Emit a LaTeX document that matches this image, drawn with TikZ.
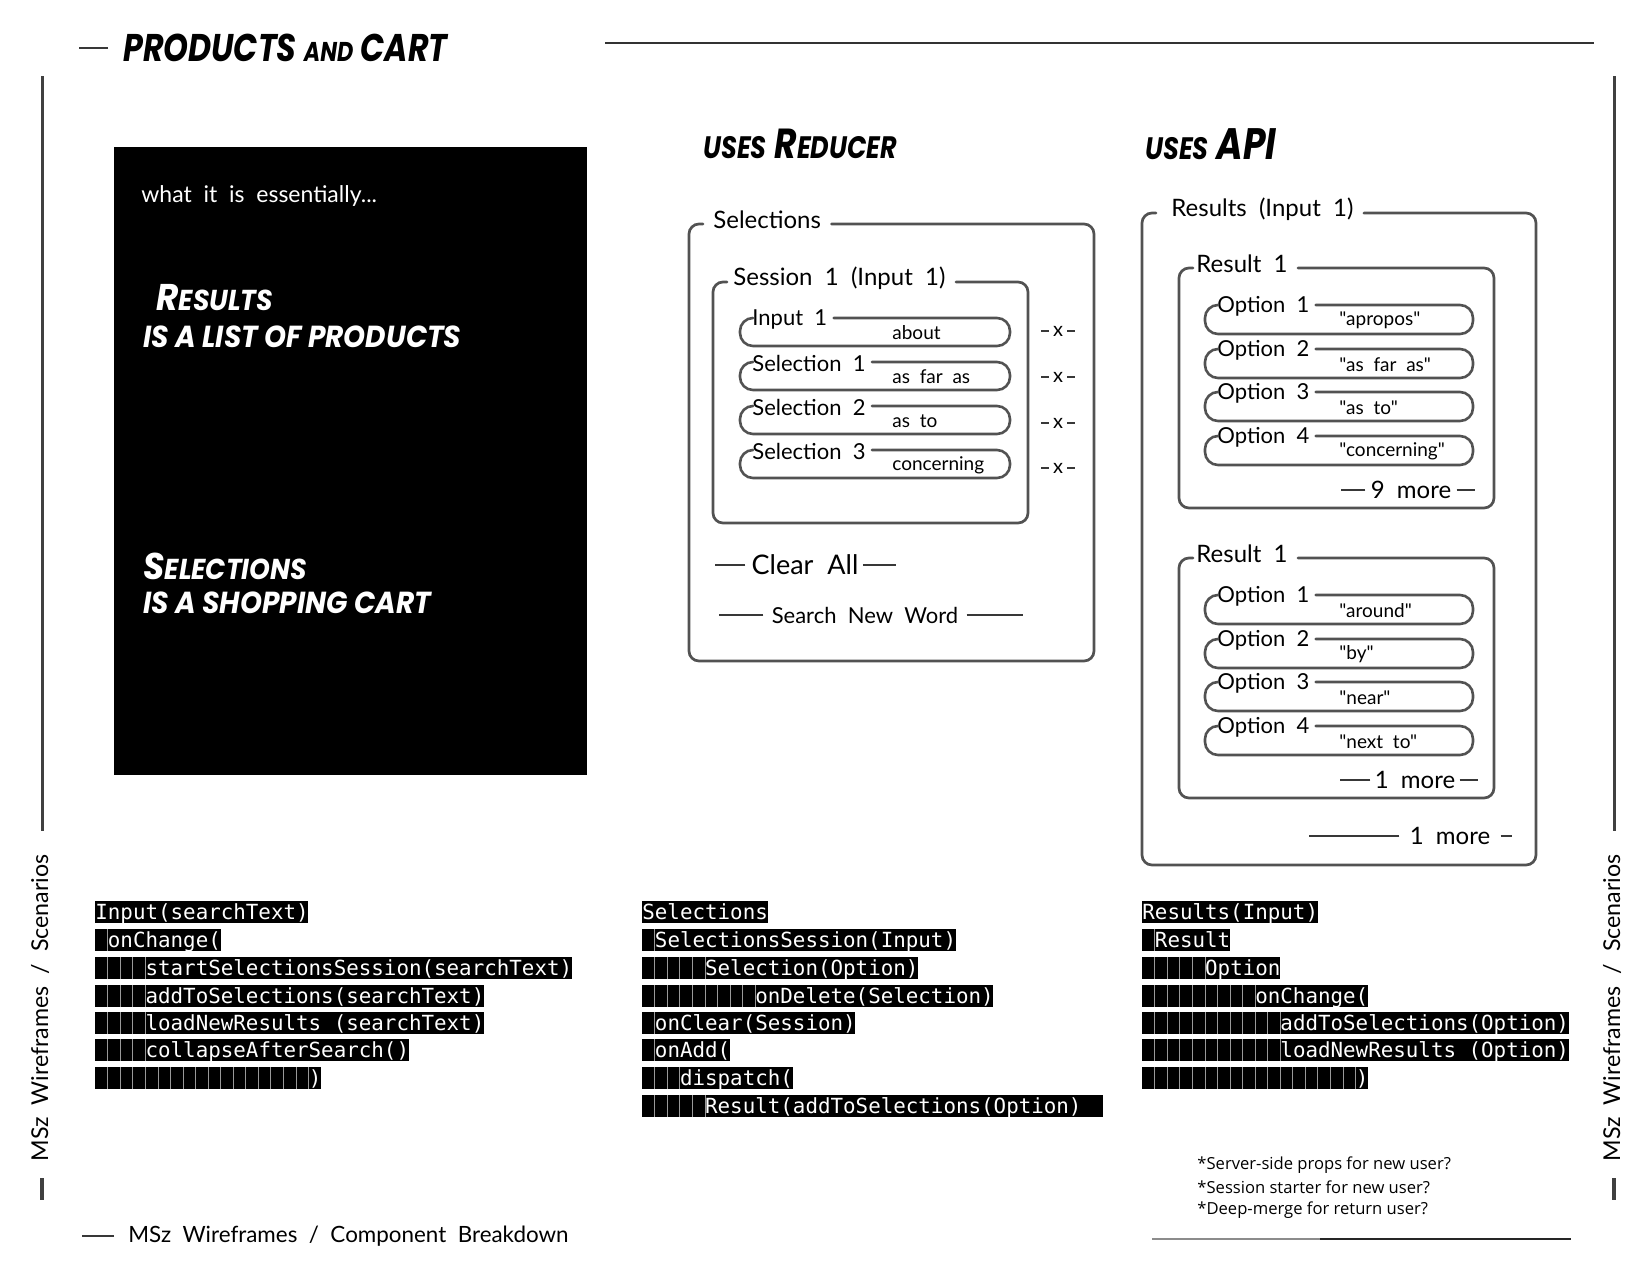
\documentclass[tikz,border=0pt]{standalone}
\usepackage{fontspec}
\setmainfont{Lato}
\newfontfamily\headfont{Poppins}[FakeStretch=0.82]
\newfontfamily\boxfont{Poppins}[FakeStretch=0.92]
\newfontfamily\handfont{Lato}[WordSpace=2.0]
\newfontfamily\codefont{DejaVu Sans Mono}
\newfontfamily\notefont{Open Sans}
\tikzset{
  sk/.style={draw=black!68, line width=1.35pt, rounded corners=5pt, line cap=round},
  pill/.style={draw=black!68, line width=1.3pt, rounded corners=6.5pt, line cap=round},
  hlbl/.style={font=\handfont\fontsize{12}{14}\selectfont, inner sep=0pt, anchor=west},
  rlbl/.style={font=\handfont\fontsize{11}{13}\selectfont, inner sep=0pt, anchor=west},
  rval/.style={font=\handfont\fontsize{9.5}{11}\selectfont, inner sep=0pt, anchor=west},
  hmore/.style={font=\handfont\fontsize{12}{14}\selectfont, inner sep=0pt},
  xmark/.style={font=\handfont\fontsize{10}{12}\selectfont, inner sep=0pt},
  ctext/.style={font=\codefont\fontsize{10.42}{12}\selectfont, text=white, inner sep=0pt, anchor=base west},
  cellsep/.style={draw=black!40, line width=0.25pt},
  dashln/.style={draw=black!78, line width=0.9pt},
  sideln/.style={draw=black!75, line width=1.5pt},
  sidetxt/.style={rotate=90, font=\handfont\fontsize{11.6}{13}\selectfont, inner sep=0pt},
  headc/.style={font=\headfont\bfseries\itshape\fontsize{21}{23}\selectfont, inner sep=0pt, anchor=west},
  boxc/.style={font=\boxfont\bfseries\itshape\fontsize{15.2}{17}\selectfont, text=white, inner sep=0pt, anchor=west},
  note/.style={font=\notefont\fontsize{8.3}{10}\selectfont, inner sep=0pt, anchor=west},
}
% code row: name, x, y, indent cells, total cells, text
\newcommand\coderow[6]{%
  \fill (#2,#3-11) rectangle ({#2+#5*12.55},#3+11);
  \ifnum#4>0
    \foreach \ii in {1,...,#4}{\draw[cellsep] ({#2+\ii*12.55},#3-11) -- ({#2+\ii*12.55},#3+11);}
  \fi
  \node[ctext] (#1) at ({#2+#4*12.55},#3+7) {#6};
}
% pill row: name, L, R, T, B, label, value, value x
\newcommand\pillrow[8]{%
  \node[rlbl] (#1l) at ({#2+12},{#4+1}) {#6};
  \node[rval] (#1v) at (#8,{(#4+#5)/2+1}) {#7};
  \draw[pill] ([xshift=3pt]#1l.east |- 0,#4) -- (#3,#4) -- (#3,#5) -- (#2,#5) -- (#2,#4) -- ({#2+13},#4);
}
% labelled box: name, L, R, T, B, label, label x
\newcommand\lblbox[7]{%
  \node[hlbl] (#1) at (#7,{#4-4}) {#6};
  \draw[sk] ([xshift=5pt]#1.east |- 0,#4) -- (#3,#4) -- (#3,#5) -- (#2,#5) -- (#2,#4) -- ({#2+14},#4);
}
\begin{document}
\begin{tikzpicture}[x=0.5pt,y=-0.5pt]
\useasboundingbox (0,0) rectangle (1650,1275);

% ---------- header ----------
\node[headc, font=\headfont\bfseries\itshape\fontsize{19.3}{21}\selectfont] (title) at (123,48)
  {PRODUCTS {\fontsize{13.6}{14}\selectfont AND} CART};
\draw[dashln] ([xshift=-7.5pt]title.west) -- ++(-29,0);
\draw[line width=1pt, black!80] (605,43) -- (1594,43);

% ---------- side bars ----------
\draw[sideln] (42,76) -- (42,831);
\node[sidetxt] (sideL) at (40,1008) {MSz Wireframes / Scenarios};
\draw[line width=2pt, black!75] (42,1178) -- (42,1200);
\draw[sideln] (1614,76) -- (1614,831);
\node[sidetxt] (sideR) at (1612,1008) {MSz Wireframes / Scenarios};
\draw[line width=2pt, black!75] (1614,1178) -- (1614,1200);

% ---------- black panel ----------
\fill (114,147) rectangle (587,775);
\node[anchor=west, text=white, font=\handfont\fontsize{11.5}{13}\selectfont, inner sep=0pt] (ess) at (141,196) {what it is essentially...};
\node[boxc, font=\boxfont\bfseries\itshape\fontsize{18.6}{20}\selectfont] (res1) at (156,298) {R{\fontsize{14.4}{16}\selectfont ESULTS}};
\node[boxc] (res2) at (143,337) {IS A LIST OF PRODUCTS};
\node[boxc, font=\boxfont\bfseries\itshape\fontsize{18.6}{20}\selectfont] (sel1) at (143,566) {S{\fontsize{14.4}{16}\selectfont ELECTIONS}};
\node[boxc] (sel2) at (143,603) {IS A SHOPPING CART};

% ---------- uses reducer ----------
\node[headc] (usesR) at (703,144) {{\fontsize{15.5}{17}\selectfont USES} R{\fontsize{15.5}{17}\selectfont EDUCER}};
\lblbox{selT}{689}{1094}{224}{661}{Selections}{713}
\lblbox{sesT}{713}{1028}{282}{523}{Session 1 (Input 1)}{733}
\pillrow{r1}{740}{1010}{318}{346}{Input 1}{about}{892}
\pillrow{r2}{740}{1010}{362}{390}{Selection 1}{as far as}{892}
\pillrow{r3}{740}{1010}{406}{434}{Selection 2}{as to}{892}
\pillrow{r4}{740}{1010}{450}{478}{Selection 3}{concerning}{892}
\foreach \nm/\yy in {x1/331, x2/377, x3/423, x4/468}{
  \node[xmark] (\nm) at (1058,\yy) {x};
  \draw[dashln] ([xshift=-2pt]\nm.west) -- ++(-8,0);
  \draw[dashln] ([xshift=2pt]\nm.east) -- ++(8,0);
}
\node[font=\handfont\fontsize{13.5}{15}\selectfont, inner sep=0pt] (clear) at (805,565) {Clear All};
\draw[dashln] ([xshift=-3pt]clear.west) -- ++(-30,0);
\draw[dashln] ([xshift=2pt]clear.east) -- ++(33,0);
\node[font=\handfont\fontsize{11}{13}\selectfont, inner sep=0pt] (snw) at (865,615) {Search New Word};
\draw[dashln] ([xshift=-4pt]snw.west) -- ++(-44,0);
\draw[dashln] ([xshift=4pt]snw.east) -- ++(56,0);

% ---------- uses api ----------
\node[headc] (usesA) at (1145,144) {{\fontsize{15.5}{17}\selectfont USES} {\fontsize{22}{24}\selectfont API}};
\lblbox{resT}{1142}{1536}{213}{865}{Results (Input 1)}{1171}
\lblbox{rA}{1179}{1494}{268}{508}{Result 1}{1196}
\pillrow{a1}{1205}{1473}{305}{334}{Option 1}{"apropos"}{1339}
\pillrow{a2}{1205}{1473}{349}{378}{Option 2}{"as far as"}{1339}
\pillrow{a3}{1205}{1473}{392}{421}{Option 3}{"as to"}{1339}
\pillrow{a4}{1205}{1473}{436}{465}{Option 4}{"concerning"}{1339}
\node[hmore] (m9) at (1411,490) {9 more};
\draw[dashln] ([xshift=-2.5pt]m9.west) -- ++(-24,0);
\draw[dashln] ([xshift=2.5pt]m9.east) -- ++(18,0);
\lblbox{rB}{1179}{1494}{558}{798}{Result 1}{1196}
\pillrow{b1}{1205}{1473}{595}{624}{Option 1}{"around"}{1339}
\pillrow{b2}{1205}{1473}{639}{668}{Option 2}{"by"}{1339}
\pillrow{b3}{1205}{1473}{682}{711}{Option 3}{"near"}{1339}
\pillrow{b4}{1205}{1473}{726}{755}{Option 4}{"next to"}{1339}
\node[hmore] (m1) at (1415,780) {1 more};
\draw[dashln] ([xshift=-2pt]m1.west) -- ++(-30,0);
\draw[dashln] ([xshift=2pt]m1.east) -- ++(18,0);
\node[hmore] (m2) at (1450,836) {1 more};
\draw[dashln] ([xshift=-5pt]m2.west) -- ++(-90,0);
\draw[dashln] ([xshift=5pt]m2.east) -- ++(11,0);

% ---------- code blocks ----------
\coderow{cA1}{95}{912}{0}{17}{Input(searchText)}
\coderow{cA2}{95}{940}{1}{10}{onChange(}
\coderow{cA3}{95}{968}{4}{38}{startSelectionsSession(searchText)}
\coderow{cA4}{95}{996}{4}{31}{addToSelections(searchText)}
\coderow{cA5}{95}{1023}{4}{31}{loadNewResults (searchText)}
\coderow{cA6}{95}{1050}{4}{25}{collapseAfterSearch()}
\coderow{cA7}{95}{1078}{17}{18}{)}

\coderow{cB1}{642}{912}{0}{10}{Selections}
\coderow{cB2}{642}{940}{1}{25}{SelectionsSession(Input)}
\coderow{cB3}{642}{968}{5}{22}{Selection(Option)}
\coderow{cB4}{642}{996}{9}{28}{onDelete(Selection)}
\coderow{cB5}{642}{1023}{1}{17}{onClear(Session)}
\coderow{cB6}{642}{1050}{1}{7}{onAdd(}
\coderow{cB7}{642}{1078}{3}{12}{dispatch(}
\coderow{cB8}{642}{1106}{5}{36.7}{Result(addToSelections(Option)}

\coderow{cC1}{1142}{912}{0}{14}{Results(Input)}
\coderow{cC2}{1142}{940}{1}{7}{Result}
\coderow{cC3}{1142}{968}{5}{11}{Option}
\coderow{cC4}{1142}{996}{9}{18}{onChange(}
\coderow{cC5}{1142}{1023}{11}{34}{addToSelections(Option)}
\coderow{cC6}{1142}{1050}{11}{34}{loadNewResults (Option)}
\coderow{cC7}{1142}{1078}{17}{18}{)}

% ---------- notes ----------
\node[note] (n1) at (1197,1165) {*Server-side props for new user?};
\node[note] (n2) at (1197,1187) {*Session starter for new user?};
\node[note] (n3) at (1197,1210) {*Deep-merge for return user?};

% ---------- footer ----------
\node[anchor=west, font=\handfont\fontsize{11.2}{13}\selectfont, inner sep=0pt] (foot) at (128,1236) {MSz Wireframes / Component Breakdown};
\draw[dashln] ([xshift=-7pt]foot.west) -- ++(-32,0);
\draw[line width=1pt, black!45] (1152,1239) -- (1320,1239);
\draw[line width=1.1pt, black!85] (1320,1239) -- (1571,1239);
\end{tikzpicture}
\end{document}
